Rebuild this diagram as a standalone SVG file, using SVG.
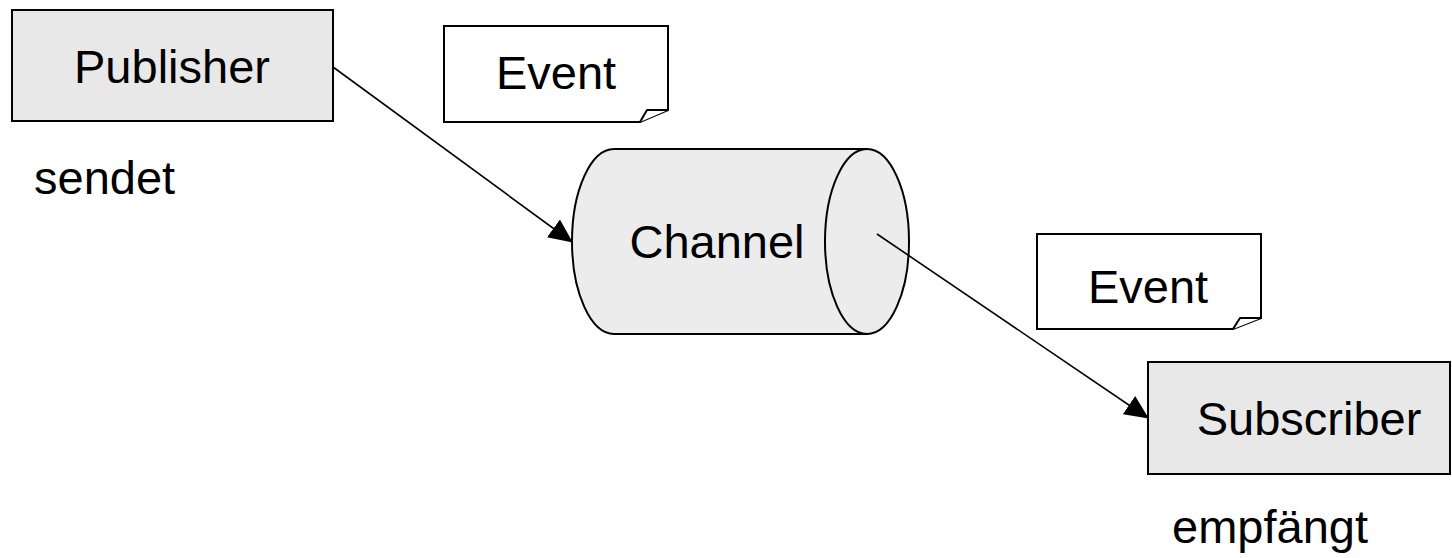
<svg xmlns="http://www.w3.org/2000/svg" width="1452" height="558" viewBox="0 0 1452 558">
<style>
.box{fill:#e8e8e8;stroke:#000;stroke-width:2}
.note{fill:#fff;stroke:#000;stroke-width:2}
.cyl{fill:#ececec;stroke:#000;stroke-width:2}
.t{font-family:"Liberation Sans",Arial,sans-serif;font-size:47px;fill:#000}
.c{text-anchor:middle}
.conn{stroke:#000;stroke-width:1.6;fill:none}
</style>
<defs>
<marker id="arr" markerUnits="userSpaceOnUse" markerWidth="24" markerHeight="22" viewBox="0 0 24 22" refX="23" refY="11" orient="auto">
<path d="M0,0 L24,11 L0,22 Z" fill="#000"/>
</marker>
</defs>
<g id="publisher">
<rect class="box" x="12" y="10" width="321" height="111"/>
<text class="t c" x="172" y="83">Publisher</text>
</g>
<g id="sendet"><text class="t" x="34" y="194">sendet</text></g>
<g id="event1">
<path class="note" d="M444,26 H668 V110 L640,122 H444 Z"/>
<path class="note" d="M640,122 L647,110 H668" stroke-linejoin="round"/>
<text class="t c" x="556" y="89">Event</text>
</g>
<g id="channel">
<path class="cyl" d="M614,149 H867 V334 H614 A42,92.5 0 0 1 614,149 Z"/>
<ellipse class="cyl" cx="867" cy="241.5" rx="42" ry="92.5"/>
<text class="t c" x="717" y="258">Channel</text>
</g>
<g id="event2">
<path class="note" d="M1037,234 H1261 V318 L1233,329 H1037 Z"/>
<path class="note" d="M1233,329 L1240,318 H1261" stroke-linejoin="round"/>
<text class="t c" x="1148" y="303">Event</text>
</g>
<g id="subscriber">
<rect class="box" x="1148" y="362" width="302" height="112"/>
<text class="t c" x="1309" y="435">Subscriber</text>
</g>
<g id="empfaengt"><text class="t" x="1172" y="543">empfängt</text></g>
<g id="connectors">
<line class="conn" x1="333" y1="67" x2="572" y2="242" marker-end="url(#arr)"/>
<line class="conn" x1="877" y1="234" x2="1148" y2="418" marker-end="url(#arr)"/>
</g>
</svg>
